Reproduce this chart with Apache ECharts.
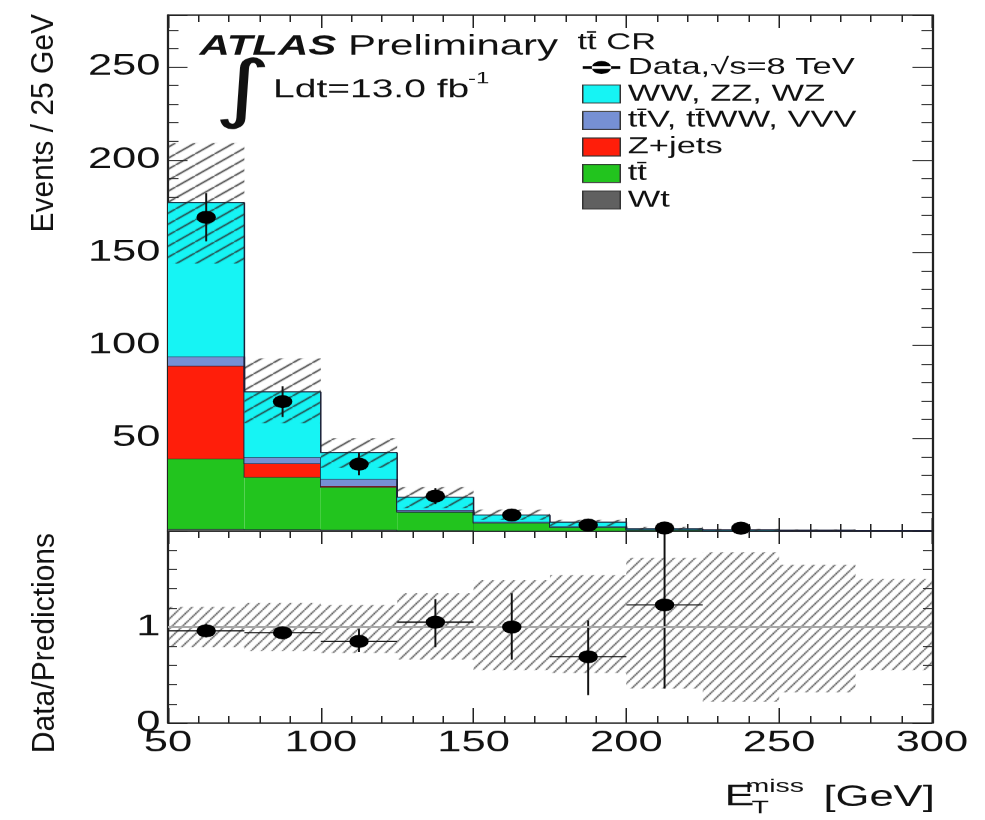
<!DOCTYPE html>
<html>
<head>
<meta charset="utf-8">
<script src="https://cdn.jsdelivr.net/npm/echarts@6/dist/echarts.min.js"></script>
<style>
  html, body { margin: 0; padding: 0; background: #fff; overflow: hidden; }
  /* the reference is stretched sideways, so the chart is drawn narrow and widened */
  #chart { width: 657px; height: 820px; transform: scaleX(1.4992); transform-origin: 0 0; }
</style>
</head>
<body>
<div id="chart"></div>
<script>
// ---- data ----
var binEdges = [50, 75, 100, 125, 150, 175, 200, 225, 250, 275, 300];
// stack, bottom to top
var wt      = [1.0, 0.8, 0.6, 0.4, 0.2, 0.1, 0.05, 0.03, 0.02, 0.01];
var ttbar   = [38, 28.2, 23, 9.8, 4.1, 2.0, 0.55, 0.22, 0.13, 0.08];
var zjets   = [50, 7.4, 0.6, 0.2, 0.1, 0, 0, 0, 0, 0];
var ttv     = [5, 3.3, 3.7, 0.9, 0.5, 0.4, 0.2, 0.1, 0.07, 0.05];
var diboson = [83, 35.3, 14.4, 6.9, 3.7, 2.3, 0.5, 0.3, 0.2, 0.16];
// data points
var dataVals = [169, 69.7, 36, 18.8, 8.6, 3.2, 1.6, 1.5, null, null];
var dataErr  = [13, 8.3, 6, 4.3, 2.9, 1.8, 1.3, 1.2, null, null];
// uncertainty band on the prediction
var bandLo = [144, 58, 34, 12.3, 6, 2.6, 0.6, 0.25, 0.12, 0.15];
var bandHi = [209, 93, 50, 23.6, 11.5, 6, 2.2, 1.2, 0.7, 0.45];
// ratio panel
var ratio       = [0.96, 0.94, 0.85, 1.05, 1.0, 0.69, 1.23, null, null, null];
var ratioLo     = [0.89, 0.87, 0.74, 0.79, 0.66, 0.29, 0.36, null, null, null];
var ratioHi     = [1.03, 1.01, 0.98, 1.29, 1.35, 1.07, 2.0, null, null, null];
var ratioBandLo = [0.79, 0.75, 0.73, 0.66, 0.55, 0.52, 0.36, 0.22, 0.32, 0.55];
var ratioBandHi = [1.21, 1.25, 1.23, 1.35, 1.49, 1.54, 1.72, 1.78, 1.65, 1.5];
// tick labels
var xTickLabels = ['50', '100', '150', '200', '250', '300'];
var yTickLabels = ['50', '100', '150', '200', '250'];
var ratioTickLabels = ['0', '1'];

var FONT = 'Liberation Sans, Arial, sans-serif';

// hatch tile for the uncertainty boxes
function makeHatch(w, h, color, lw) {
    var c = document.createElement('canvas');
    c.width = w; c.height = h;
    var ctx = c.getContext('2d');
    ctx.strokeStyle = color;
    ctx.lineWidth = lw;
    ctx.beginPath();
    ctx.moveTo(-w, 2 * h); ctx.lineTo(2 * w, -h);
    ctx.stroke();
    return c;
}
var hatchTop = makeHatch(13, 11, '#2a2a2a', 1.2);
var hatchRatio = makeHatch(7, 10, '#2a2a2a', 1.0);

// stacked components -> rect rows [lo, hi, base, top, prevTop]
var components = [
    {name: 'Wt', vals: wt, color: '#606060'},
    {name: 't\u0074\u0304', vals: ttbar, color: '#22c41e'},
    {name: 'Z+jets', vals: zjets, color: '#ff1e0a'},
    {name: 't\u0074\u0304V, t\u0074\u0304WW, VVV', vals: ttv, color: '#7690d4'},
    {name: 'WW, ZZ, WZ', vals: diboson, color: '#16f4f4'}
];
var base = binEdges.slice(0, -1).map(function () { return 0; });
var stackSeries = components.map(function (c) {
    var rows = [];
    for (var i = 0; i < c.vals.length; i++) {
        var b = base[i], t = base[i] + c.vals[i];
        var prevTop = i === 0 ? t : rows[i - 1][3];
        rows.push([binEdges[i], binEdges[i + 1], b, t, prevTop]);
        base[i] = t;
    }
    return {
        name: c.name,
        type: 'custom',
        xAxisIndex: 0, yAxisIndex: 0,
        itemStyle: {color: c.color},
        data: rows,
        renderItem: function (params, api) {
            var p0 = api.coord([api.value(0), api.value(3)]);
            var p1 = api.coord([api.value(1), api.value(2)]);
            var pp = api.coord([api.value(0), api.value(4)]);
            return {type: 'group', children: [
                {type: 'rect', shape: {x: p0[0], y: p0[1], width: p1[0] - p0[0], height: p1[1] - p0[1]},
                 style: {fill: api.visual('color')}},
                {type: 'polyline', shape: {points: [[p0[0], pp[1]], [p0[0], p0[1]], [p1[0], p0[1]]]},
                 style: {stroke: '#1c2038', lineWidth: 1, fill: null}}
            ]};
        }
    };
});

function bandRows(lo, hi) {
    return lo.map(function (v, i) { return [binEdges[i], binEdges[i + 1], v, hi[i]]; });
}
function hatchRender(pattern) {
    return function (params, api) {
        var p0 = api.coord([api.value(0), api.value(3)]);
        var p1 = api.coord([api.value(1), api.value(2)]);
        return {type: 'rect', shape: {x: p0[0], y: p0[1], width: p1[0] - p0[0], height: p1[1] - p0[1]},
                style: {fill: {image: pattern, repeat: 'repeat'}}};
    };
}

var centers = binEdges.slice(0, -1).map(function (e, i) { return (e + binEdges[i + 1]) / 2; });

var dataPoints = [], dataBars = [], ratioPoints = [], ratioBars = [];
for (var i = 0; i < centers.length; i++) {
    if (dataVals[i] !== null) {
        dataPoints.push([centers[i], dataVals[i]]);
        dataBars.push([centers[i], dataVals[i] - dataErr[i], dataVals[i] + dataErr[i]]);
    }
    if (ratio[i] !== null) {
        ratioPoints.push([centers[i], ratio[i]]);
        ratioBars.push([centers[i], ratioLo[i], ratioHi[i], binEdges[i], binEdges[i + 1], ratio[i]]);
    }
}

var chart = echarts.init(document.getElementById('chart'), null, {renderer: 'canvas', devicePixelRatio: 1.5});

function frameAxis(extra) {
    var a = {
        type: 'value',
        axisLine: {show: true, onZero: false, lineStyle: {color: '#222', width: 1.5}},
        axisTick: {show: true, inside: true, length: 13, lineStyle: {color: '#222', width: 1}},
        minorTick: {show: true, splitNumber: 5, length: 7, lineStyle: {color: '#222', width: 1}},
        axisLabel: {show: false},
        splitLine: {show: false},
        minorSplitLine: {show: false}
    };
    for (var k in extra) a[k] = extra[k];
    return a;
}
var xLabel = {show: true, margin: 6, color: '#111', fontSize: 29, fontFamily: FONT,
    formatter: function (v) { return xTickLabels.indexOf(String(v)) >= 0 ? String(v) : ''; }};
var yLabel = {show: true, margin: 5, color: '#111', fontSize: 29, fontFamily: FONT,
    formatter: function (v) { return yTickLabels.indexOf(String(v)) >= 0 ? String(v) : ''; }};
var rLabel = {show: true, margin: 5, color: '#111', fontSize: 29, fontFamily: FONT,
    formatter: function (v) { return ratioTickLabels.indexOf(String(v)) >= 0 ? String(v) : ''; }};

var option = {
    backgroundColor: '#fff',
    animation: false,
    grid: [
        {left: 112, top: 15, width: 509.3, height: 516, outerBoundsMode: 'none'},
        {left: 112, top: 531, width: 509.3, height: 192, outerBoundsMode: 'none'}
    ],
    xAxis: [
        frameAxis({gridIndex: 0, min: 50, max: 300, interval: 50, position: 'bottom'}),
        frameAxis({gridIndex: 0, min: 50, max: 300, interval: 50, position: 'top'}),
        frameAxis({gridIndex: 1, min: 50, max: 300, interval: 50, position: 'bottom', axisLabel: xLabel,
                   axisTick: {show: true, inside: true, length: 15, lineStyle: {color: '#222', width: 1}}}),
        frameAxis({gridIndex: 1, min: 50, max: 300, interval: 50, position: 'top'})
    ],
    yAxis: [
        frameAxis({gridIndex: 0, min: 0, max: 278, interval: 50, position: 'left', axisLabel: yLabel}),
        frameAxis({gridIndex: 0, min: 0, max: 278, interval: 50, position: 'right'}),
        frameAxis({gridIndex: 1, min: 0, max: 2, interval: 1, position: 'left', axisLabel: rLabel,
                   minorTick: {show: true, splitNumber: 5, length: 6, lineStyle: {color: '#222', width: 1}}}),
        frameAxis({gridIndex: 1, min: 0, max: 2, interval: 1, position: 'right',
                   minorTick: {show: true, splitNumber: 5, length: 6, lineStyle: {color: '#222', width: 1}}})
    ],
    legend: {
        orient: 'vertical', left: 388, top: 56, padding: 0,
        itemWidth: 25, itemHeight: 18, itemGap: 3.5,
        selectedMode: false,
        textStyle: {fontSize: 23, fontFamily: FONT, color: '#111'},
        data: [
            {name: 'Data,\u221As=8 TeV',
             icon: 'path://M0,5.2L25,5.2L25,7.8L0,7.8Z M6,6.5A6.5,6.5 0 1 0 19,6.5A6.5,6.5 0 1 0 6,6.5Z',
             itemStyle: {color: '#000', opacity: 1}},
            {name: 'WW, ZZ, WZ', icon: 'rect', itemStyle: {borderColor: '#333', borderWidth: 1}},
            {name: 't\u0074\u0304V, t\u0074\u0304WW, VVV', icon: 'rect', itemStyle: {borderColor: '#333', borderWidth: 1}},
            {name: 'Z+jets', icon: 'rect', itemStyle: {borderColor: '#333', borderWidth: 1}},
            {name: 't\u0074\u0304', icon: 'rect', itemStyle: {borderColor: '#333', borderWidth: 1}},
            {name: 'Wt', icon: 'rect', itemStyle: {borderColor: '#333', borderWidth: 1}}
        ]
    },
    graphic: [
        {type: 'text', x: 133, y: 47, style: {text: '{a|ATLAS}{b| Preliminary}', verticalAlign: 'middle', textVerticalAlign: 'middle',
            rich: {a: {fontSize: 28, fontWeight: 'bold', fontStyle: 'italic', fontFamily: FONT, fill: '#111', color: '#111'},
                   b: {fontSize: 28, fontFamily: FONT, fill: '#111', color: '#111'}}}},
        {type: 'text', x: 162, y: 94, style: {text: '\u222B', font: '74px DejaVu Sans', fill: '#111',
            align: 'center', textAlign: 'center', verticalAlign: 'middle', textVerticalAlign: 'middle'}},
        {type: 'text', x: 182, y: 90, style: {text: 'Ldt=13.0 fb', font: '26px ' + FONT, fill: '#111',
            verticalAlign: 'middle', textVerticalAlign: 'middle'}},
        {type: 'text', x: 312, y: 79, style: {text: '-1', font: '16px ' + FONT, fill: '#111',
            verticalAlign: 'middle', textVerticalAlign: 'middle'}},
        {type: 'text', x: 385, y: 43, style: {text: 't\u0074\u0304 CR', font: '23px ' + FONT, fill: '#111',
            verticalAlign: 'middle', textVerticalAlign: 'middle'}},
        {type: 'text', x: 29.5, y: 14, rotation: Math.PI / 2, scaleY: 0.7,
            style: {text: 'Events / 25 GeV', font: '30px ' + FONT, fill: '#111',
            align: 'right', textAlign: 'right', verticalAlign: 'middle', textVerticalAlign: 'middle'}},
        {type: 'text', x: 30.5, y: 533, rotation: Math.PI / 2, scaleY: 0.7,
            style: {text: 'Data/Predictions', font: '30px ' + FONT, fill: '#111',
            align: 'right', textAlign: 'right', verticalAlign: 'middle', textVerticalAlign: 'middle'}},
        {type: 'text', x: 483, y: 797, style: {text: 'E', font: '30px ' + FONT, fill: '#111',
            verticalAlign: 'middle', textVerticalAlign: 'middle'}},
        {type: 'text', x: 497, y: 787, style: {text: 'miss', font: '19px ' + FONT, fill: '#111',
            verticalAlign: 'middle', textVerticalAlign: 'middle'}},
        {type: 'text', x: 501, y: 808, style: {text: 'T', font: '19px ' + FONT, fill: '#111',
            verticalAlign: 'middle', textVerticalAlign: 'middle'}},
        {type: 'text', x: 549, y: 798, style: {text: '[GeV]', font: '29px ' + FONT, fill: '#111',
            verticalAlign: 'middle', textVerticalAlign: 'middle'}}
    ],
    series: stackSeries.concat([
        {
            name: 'Uncertainty', type: 'custom', xAxisIndex: 0, yAxisIndex: 0,
            data: bandRows(bandLo, bandHi), renderItem: hatchRender(hatchTop), z: 3
        },
        {
            name: 'DataErr', type: 'custom', xAxisIndex: 0, yAxisIndex: 0, z: 4,
            data: dataBars,
            renderItem: function (params, api) {
                var a = api.coord([api.value(0), api.value(1)]);
                var b = api.coord([api.value(0), api.value(2)]);
                return {type: 'line', shape: {x1: a[0], y1: a[1], x2: b[0], y2: b[1]},
                        style: {stroke: '#111', lineWidth: 1.3}};
            }
        },
        {
            name: 'Data,\u221As=8 TeV', type: 'scatter', xAxisIndex: 0, yAxisIndex: 0, z: 5,
            symbol: 'circle', symbolSize: 13, itemStyle: {color: '#000', opacity: 1},
            data: dataPoints
        },
        {
            name: 'RatioBand', type: 'custom', xAxisIndex: 2, yAxisIndex: 2,
            data: bandRows(ratioBandLo, ratioBandHi), renderItem: hatchRender(hatchRatio), z: 2
        },
        {
            name: 'RatioErr', type: 'custom', xAxisIndex: 2, yAxisIndex: 2, z: 4, clip: true,
            data: ratioBars,
            renderItem: function (params, api) {
                var a = api.coord([api.value(0), api.value(1)]);
                var b = api.coord([api.value(0), api.value(2)]);
                var l = api.coord([api.value(3), api.value(5)]);
                var r = api.coord([api.value(4), api.value(5)]);
                return {type: 'group', children: [
                    {type: 'line', shape: {x1: a[0], y1: a[1], x2: b[0], y2: b[1]}, style: {stroke: '#111', lineWidth: 1.3}},
                    {type: 'line', shape: {x1: l[0], y1: l[1], x2: r[0], y2: r[1]}, style: {stroke: '#111', lineWidth: 1.3}}
                ]};
            }
        },
        {
            name: 'Ratio', type: 'scatter', xAxisIndex: 2, yAxisIndex: 2, z: 5,
            symbol: 'circle', symbolSize: 13, itemStyle: {color: '#000', opacity: 1},
            data: ratioPoints,
            markLine: {
                silent: true, symbol: 'none', label: {show: false},
                lineStyle: {color: '#a8a8a8', width: 2, type: 'solid'},
                data: [{yAxis: 1}]
            }
        }
    ])
};

chart.setOption(option);
</script>
</body>
</html>
